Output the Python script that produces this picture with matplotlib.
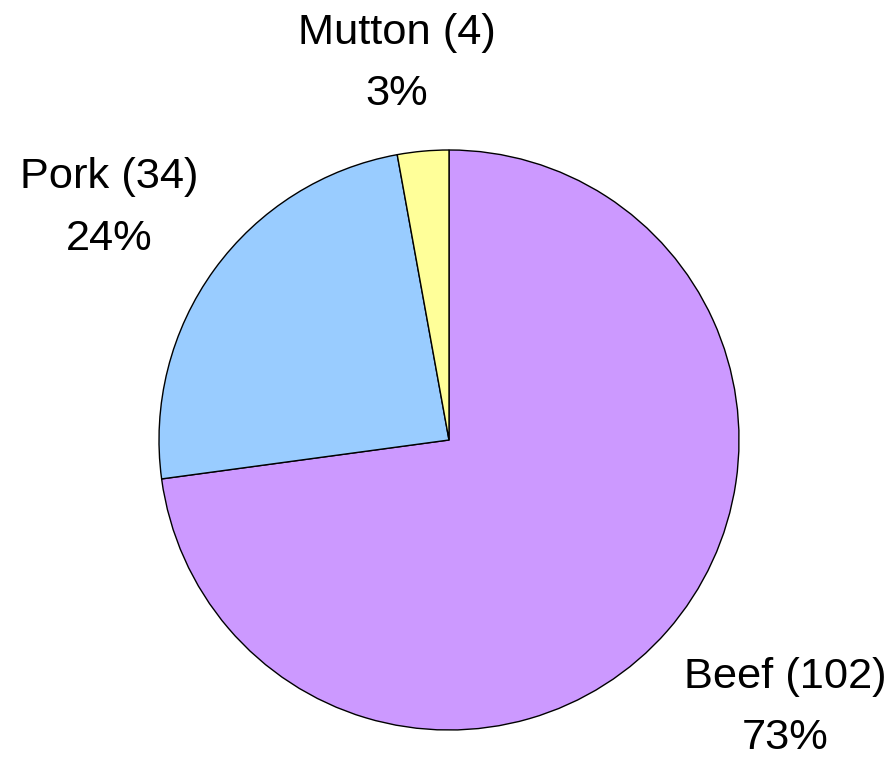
import matplotlib
matplotlib.use("Agg")
import matplotlib.pyplot as plt
import numpy as np

categories = ["Beef", "Pork", "Mutton"]
values = [102, 34, 4]
colors = ["#CC99FF", "#99CCFF", "#FFFF99"]

plt.rcParams['font.family'] = ['Liberation Sans', 'DejaVu Sans']

W, H = 893, 758
fig = plt.figure(figsize=(W / 100, H / 100), dpi=100)
cx, cy, r = 449, 440, 290
ax = fig.add_axes([(cx - r) / W, (H - cy - r) / H, 2 * r / W, 2 * r / H])

wedges, _ = ax.pie(values, colors=colors, startangle=90, counterclock=False,
                   wedgeprops=dict(edgecolor="black", linewidth=1.0))
ax.set_xlim(-1, 1)
ax.set_ylim(-1, 1)
ax.set_aspect("equal")
ax.axis("off")

total = sum(values)
label_dist = [1.482, 1.418, 1.31]
label_adj = [2.6, 1.65, 2.8]
for w, cat, v, d, adj in zip(wedges, categories, values, label_dist, label_adj):
    mid = np.deg2rad((w.theta1 + w.theta2) / 2 + adj)
    x, y = d * np.cos(mid), d * np.sin(mid)
    ax.text(x, y, f"{cat} ({v})\n{round(100 * v / total)}%", ha="center", va="center",
            fontsize=31.2, linespacing=1.68, clip_on=False)

fig.savefig("out.png", dpi=100)
